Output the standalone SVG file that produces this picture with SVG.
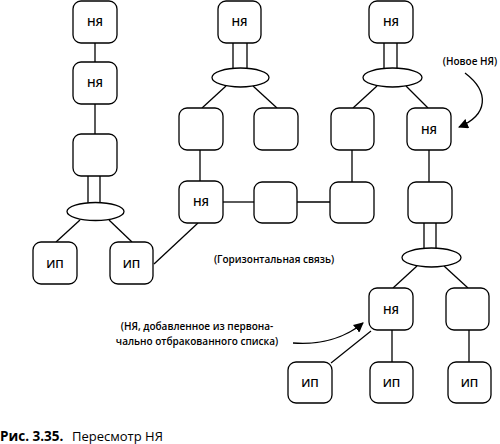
<svg xmlns="http://www.w3.org/2000/svg" width="500" height="444" viewBox="0 0 500 444">
<defs>
<style>
.b{fill:#fff;stroke:#000;stroke-width:1.3}
.e{fill:#fff;stroke:#000;stroke-width:1.3}
.c{fill:none;stroke:#000;stroke-width:1.3}
.t{font-family:"Open Sans","DejaVu Sans",sans-serif;font-size:11.5px;font-weight:600;text-anchor:middle;fill:#000}
.l{font-family:"Open Sans","DejaVu Sans",sans-serif;font-size:10px;font-weight:600;fill:#000}
.cap{font-family:"Open Sans","DejaVu Sans",sans-serif;font-size:13px;fill:#000}
</style>
<marker id="ah" viewBox="0 0 10 10" refX="9" refY="5" markerWidth="10" markerHeight="10" markerUnits="userSpaceOnUse" orient="auto">
<path d="M0,0 L10,5 L0,10 z" fill="#000"/>
</marker>
</defs>
<rect width="500" height="444" fill="#fff"/>
<g id="connectors">
<line class="c" x1="95" y1="43" x2="95" y2="62"/>
<line class="c" x1="95" y1="104" x2="95" y2="134"/>
<line class="c" x1="88" y1="176" x2="88" y2="203"/>
<line class="c" x1="100" y1="176" x2="100" y2="203"/>
<line class="c" x1="80" y1="220" x2="56" y2="242"/>
<line class="c" x1="109" y1="220" x2="132" y2="242"/>
<line class="c" x1="154" y1="264" x2="198" y2="223"/>
<line class="c" x1="233" y1="43" x2="233" y2="69"/>
<line class="c" x1="247" y1="43" x2="247" y2="69"/>
<line class="c" x1="226" y1="86" x2="202" y2="108"/>
<line class="c" x1="253" y1="86" x2="277" y2="108"/>
<line class="c" x1="200" y1="150" x2="200" y2="181"/>
<line class="c" x1="223" y1="202" x2="254" y2="202"/>
<line class="c" x1="297" y1="202" x2="330" y2="202"/>
<line class="c" x1="384" y1="43" x2="384" y2="69"/>
<line class="c" x1="397" y1="43" x2="397" y2="69"/>
<line class="c" x1="377" y1="86" x2="353" y2="108"/>
<line class="c" x1="406" y1="86" x2="428" y2="108"/>
<line class="c" x1="352" y1="150" x2="352" y2="182"/>
<line class="c" x1="429" y1="150" x2="429" y2="182"/>
<line class="c" x1="424" y1="223" x2="424" y2="249"/>
<line class="c" x1="436" y1="223" x2="436" y2="249"/>
<line class="c" x1="417" y1="266" x2="393" y2="288"/>
<line class="c" x1="444" y1="266" x2="468" y2="288"/>
<line class="c" x1="371" y1="331" x2="331" y2="363"/>
<line class="c" x1="392" y1="330" x2="392" y2="362"/>
<line class="c" x1="469" y1="330" x2="469" y2="362"/>
<path class="c" d="M465,73 C490,92 488,115 459,127" marker-end="url(#ah)"/>
<path class="c" d="M293,343 C320,345 345,338 363,323" marker-end="url(#ah)"/>
</g>
<g id="n1"><rect class="b" x="73" y="1" width="44" height="42" rx="8"/><text class="t" x="95" y="26">НЯ</text></g>
<g id="n2"><rect class="b" x="73" y="62" width="44" height="42" rx="8"/><text class="t" x="95" y="87">НЯ</text></g>
<g id="n3"><rect class="b" x="73" y="134" width="44" height="42" rx="8"/></g>
<g id="e1"><ellipse class="e" cx="95.5" cy="211.5" rx="28.5" ry="9"/></g>
<g id="n4"><rect class="b" x="33" y="242" width="44" height="42" rx="8"/><text class="t" x="55" y="268">ИП</text></g>
<g id="n5"><rect class="b" x="110" y="242" width="43" height="42" rx="8"/><text class="t" x="131.5" y="268">ИП</text></g>
<g id="n6"><rect class="b" x="218" y="1" width="43" height="42" rx="8"/><text class="t" x="239.5" y="26">НЯ</text></g>
<g id="e2"><ellipse class="e" cx="240.5" cy="77.5" rx="28.5" ry="9.5"/></g>
<g id="n7"><rect class="b" x="179" y="108" width="44" height="42" rx="8"/></g>
<g id="n8"><rect class="b" x="254" y="108" width="44" height="42" rx="8"/></g>
<g id="n9"><rect class="b" x="179" y="181" width="44" height="42" rx="8"/><text class="t" x="201" y="206">НЯ</text></g>
<g id="n10"><rect class="b" x="254" y="182" width="43" height="41" rx="8"/></g>
<g id="n11"><rect class="b" x="330" y="182" width="44" height="41" rx="8"/></g>
<g id="n12"><rect class="b" x="369" y="1" width="44" height="42" rx="8"/><text class="t" x="391" y="26">НЯ</text></g>
<g id="e3"><ellipse class="e" cx="392.5" cy="77.5" rx="29.5" ry="9.5"/></g>
<g id="n13"><rect class="b" x="331" y="108" width="43" height="42" rx="8"/></g>
<g id="n14"><rect class="b" x="407" y="108" width="44" height="42" rx="8"/><text class="t" x="429" y="134">НЯ</text></g>
<g id="n15"><rect class="b" x="408" y="182" width="44" height="41" rx="8"/></g>
<g id="e4"><ellipse class="e" cx="431.5" cy="257.5" rx="29.5" ry="9.5"/></g>
<g id="n16"><rect class="b" x="369" y="288" width="44" height="42" rx="8"/><text class="t" x="391" y="314">НЯ</text></g>
<g id="n17"><rect class="b" x="446" y="288" width="43" height="42" rx="8"/></g>
<g id="n18"><rect class="b" x="288" y="362" width="44" height="41" rx="8"/><text class="t" x="310" y="387">ИП</text></g>
<g id="n19"><rect class="b" x="370" y="362" width="43" height="41" rx="8"/><text class="t" x="391.5" y="387">ИП</text></g>
<g id="n20"><rect class="b" x="448" y="362" width="43" height="41" rx="8"/><text class="t" x="469.5" y="387">ИП</text></g>
<g id="labels">
<text class="l" x="470" y="65" text-anchor="middle">(Новое НЯ)</text>
<text class="l" x="274" y="263" text-anchor="middle">(Горизонтальная связь)</text>
<text class="l" x="197" y="330" text-anchor="middle">(НЯ, добавленное из первона-</text>
<text class="l" x="197" y="345" text-anchor="middle">чально отбракованного списка)</text>
<text class="cap" x="0" y="441"><tspan font-weight="700" font-size="13.5px">Рис. 3.35.</tspan><tspan x="72">Пересмотр НЯ</tspan></text>
</g>
</svg>
